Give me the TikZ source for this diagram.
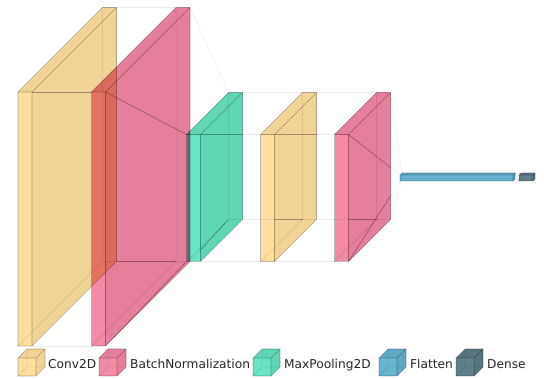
\documentclass[tikz,border=0pt]{standalone}
\usepackage{fontspec}
\setmainfont{DejaVu Sans}
\usepackage{xcolor}
\usepackage{tikz}
\usetikzlibrary{positioning}

\definecolor{convfront}{RGB}{254,223,158}
\definecolor{convside}{RGB}{240,212,150}
\definecolor{bnfront}{RGB}{243,139,166}
\definecolor{bnside}{RGB}{230,127,155}
\definecolor{poolfront}{RGB}{102,228,196}
\definecolor{poolside}{RGB}{96,214,181}
\definecolor{flatfront}{RGB}{103,182,210}
\definecolor{flatside}{RGB}{95,168,195}
\definecolor{densefront}{RGB}{98,128,138}
\definecolor{denseside}{RGB}{88,115,125}

% corners of a layer: name, x1, y1, x2, y2, depth
\newcommand{\layerbox}[6]{%
  \coordinate (#1-ftl) at (#2,#3);
  \coordinate (#1-ftr) at (#4,#3);
  \coordinate (#1-fbl) at (#2,#5);
  \coordinate (#1-fbr) at (#4,#5);
  \coordinate (#1-btl) at ({#2+#6},{#3-#6});
  \coordinate (#1-btr) at ({#4+#6},{#3-#6});
  \coordinate (#1-bbl) at ({#2+#6},{#5-#6});
  \coordinate (#1-bbr) at ({#4+#6},{#5-#6});
}
% faces and edges: name, front colour, side colour
\newcommand{\drawlayer}[3]{%
  \fill[#3, face] (#1-ftr) -- (#1-btr) -- (#1-bbr) -- (#1-fbr) -- cycle;
  \fill[#3, face] (#1-ftl) -- (#1-btl) -- (#1-btr) -- (#1-ftr) -- cycle;
  \fill[#2, face] (#1-ftl) rectangle (#1-fbr);
  \draw[hidden edge] (#1-fbl) -- (#1-bbl) -- (#1-bbr) (#1-bbl) -- (#1-btl);
  \draw[edge] (#1-ftl) rectangle (#1-fbr) (#1-ftl) -- (#1-btl) -- (#1-btr) -- (#1-bbr) -- (#1-fbr) (#1-ftr) -- (#1-btr);
}
\newcommand{\funnel}[3]{%
  \draw[#3] (#1-btr) -- (#2-btl) (#1-ftr) -- (#2-ftl) (#1-bbr) -- (#2-bbl) (#1-fbr) -- (#2-fbl);
}
\newcommand{\rightface}[1]{(#1-ftr) -- (#1-btr) -- (#1-bbr) -- (#1-fbr) -- cycle}

\begin{document}
\begin{tikzpicture}[x=1pt, y=-1pt,
    face/.style={blend mode=multiply},
    edge/.style={draw=black, draw opacity=0.28, line width=0.6pt},
    hidden edge/.style={draw=black, draw opacity=0.12, line width=0.5pt},
    faint/.style={draw=black!7, line width=0.6pt},
    dark/.style={draw=black, draw opacity=0.28, line width=0.6pt},
    label/.style={anchor=base west, inner sep=0pt, text=black!85, font=\fontsize{12.2}{14}\selectfont}]

    \useasboundingbox (0,0) rectangle (544,379);

    % layers
    \layerbox{conva}{18}{92}{32}{346}{84.5}
    \layerbox{bna}{91.5}{92}{105.5}{346}{84.5}
    \layerbox{pool}{186.5}{134.5}{200.5}{261.5}{42}
    \layerbox{convb}{260.5}{134.5}{274.5}{261.5}{42}
    \layerbox{bnb}{334.5}{134.5}{348.5}{261.5}{42}
    \layerbox{flat}{400}{175}{513}{181}{2}
    \layerbox{dense}{519}{175}{533}{181}{2}

    \funnel{conva}{bna}{faint}
    \funnel{bna}{pool}{faint}
    \funnel{pool}{convb}{faint}
    \funnel{convb}{bnb}{faint}
    \funnel{bnb}{flat}{faint}
    \funnel{flat}{dense}{faint}

    \drawlayer{conva}{convfront}{convside}
    \drawlayer{bna}{bnfront}{bnside}
    \drawlayer{pool}{poolfront}{poolside}
    \drawlayer{convb}{convfront}{convside}
    \drawlayer{bnb}{bnfront}{bnside}
    \drawlayer{flat}{flatfront}{flatside}
    \drawlayer{dense}{densefront}{denseside}

    % funnel lines seen through the side faces
    \begin{scope}
        \clip \rightface{conva} \rightface{bna} \rightface{pool} \rightface{convb} \rightface{bnb};
        \funnel{conva}{bna}{dark}
        \funnel{bna}{pool}{dark}
        \funnel{pool}{convb}{dark}
        \funnel{convb}{bnb}{dark}
        \funnel{bnb}{flat}{dark}
    \end{scope}

    % legend
    \layerbox{lconv}{18}{358}{36}{376}{9}
    \layerbox{lbn}{99}{358}{117}{376}{9}
    \layerbox{lpool}{253}{358}{271}{376}{9}
    \layerbox{lflat}{379}{358}{397}{376}{9}
    \layerbox{ldense}{456}{358}{474}{376}{9}
    \drawlayer{lconv}{convfront}{convside}
    \drawlayer{lbn}{bnfront}{bnside}
    \drawlayer{lpool}{poolfront}{poolside}
    \drawlayer{lflat}{flatfront}{flatside}
    \drawlayer{ldense}{densefront}{denseside}

    \node[label] (tconv) at (48,369) {Conv2D};
    \node[label] (tbn) at (130,369) {BatchNormalization};
    \node[label] (tpool) at (284,369) {MaxPooling2D};
    \node[label] (tflat) at (410,369) {Flatten};
    \node[label] (tdense) at (487,369) {Dense};
\end{tikzpicture}
\end{document}
